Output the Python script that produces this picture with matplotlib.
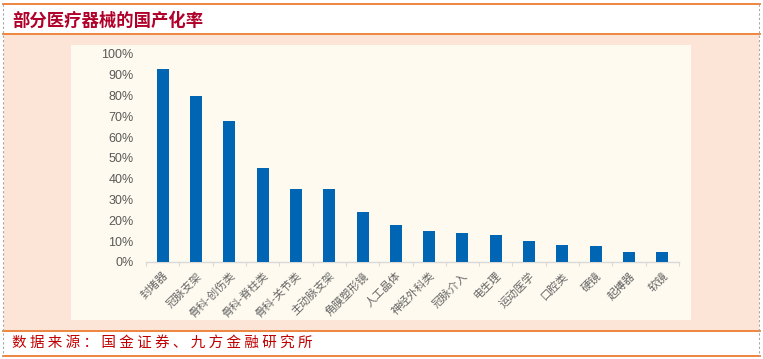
import matplotlib.pyplot as plt
import matplotlib.patches as mpatches
import matplotlib.lines as mlines
import numpy as np

plt.rcParams['font.family'] = ['Noto Sans CJK SC', 'DejaVu Sans']

categories = ['封堵器', '冠脉支架', '骨科-创伤类', '骨科-脊柱类', '骨科-关节类', '主动脉支架',
              '角膜塑形镜', '人工晶体', '神经外科类', '冠脉介入', '电生理', '运动医学',
              '口腔类', '硬镜', '起搏器', '软镜']
rates = [93, 80, 68, 45, 35, 35, 24, 18, 15, 14, 13, 10, 8, 7.5, 5, 5]
yticks = [0, 10, 20, 30, 40, 50, 60, 70, 80, 90, 100]

W, H = 763, 359
fig = plt.figure(figsize=(W / 100, H / 100), dpi=100)
fig.patch.set_facecolor('white')

def fx(px):
    return px / W

def fy(py):
    return 1 - py / H

# 粉色底板和米色绘图区
fig.patches.append(mpatches.Rectangle((fx(4), fy(331)), fx(755), (331 - 35) / H,
                                      transform=fig.transFigure, facecolor='#FCE4D6',
                                      edgecolor='none', zorder=0))
fig.patches.append(mpatches.Rectangle((fx(71), fy(320)), fx(620), (320 - 45) / H,
                                      transform=fig.transFigure, facecolor='#FEFAEF',
                                      edgecolor='none', zorder=1))

# 橙色横线
orange = '#ED7D31'
for yy in [4, 34, 331, 356]:
    fig.lines.append(mlines.Line2D([fx(3), fx(760)], [fy(yy), fy(yy)], transform=fig.transFigure,
                                   color=orange, lw=1.3, zorder=2))
# 两侧灰色虚线
for xx in [3, 759]:
    fig.lines.append(mlines.Line2D([fx(xx), fx(xx)], [fy(4), fy(356)], transform=fig.transFigure,
                                   color='#A6A6A6', lw=0.8, ls=(0, (2, 2)), zorder=2))

fig.text(fx(12), fy(21), '部分医疗器械的国产化率', fontsize=12.5, fontweight='bold',
         color='#B0002A', ha='left', va='center')
fig.text(fx(12), fy(343), ' '.join('数据来源：国金证券、九方金融研究所'), fontsize=10.5,
         color='#C00000', ha='left', va='center')

ax = fig.add_axes([fx(146), fy(262), (679 - 146) / W, (262 - 54) / H])
ax.set_zorder(5)
ax.set_facecolor('none')
x = np.arange(len(categories))
ax.bar(x, rates, width=0.36, color='#0066B3', zorder=3)

ax.set_xlim(-0.5, len(categories) - 0.5)
ax.set_ylim(0, 100)
ax.set_yticks(yticks)
ax.set_yticklabels([f'{v}%' for v in yticks], fontsize=9, color='#595959',
                   family=['Liberation Sans', 'DejaVu Sans'])
ax.tick_params(axis='y', length=0, pad=9)

ax.set_xticks(x)
ax.set_xticklabels(categories, rotation=45, ha='right', va='top', rotation_mode='anchor',
                   fontsize=8, color='#666666')
ax.tick_params(axis='x', which='major', length=0, pad=6)
ax.set_xticks(np.arange(-0.5, len(categories), 1), minor=True)
ax.tick_params(axis='x', which='minor', length=3, color='#D9D9D9', width=0.8)

for s in ['top', 'right', 'left']:
    ax.spines[s].set_visible(False)
ax.spines['bottom'].set_color('#D9D9D9')
ax.spines['bottom'].set_linewidth(1)

fig.savefig('out.png', dpi=100)
